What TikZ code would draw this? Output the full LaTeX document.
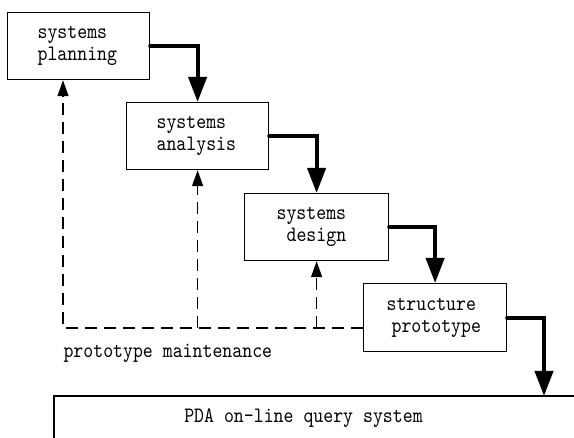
\documentclass[tikz,border=0pt]{standalone}
\usepackage{fontspec}
\usetikzlibrary{arrows.meta}
\newfontfamily\dfam{lmmono10-regular.otf}[FakeStretch=0.86]
\newcommand\dfont{\dfam\fontsize{22}{22}\selectfont}
\begin{document}
\begin{tikzpicture}[x=1pt,y=-1pt,
  font=\dfont,
  stagebox/.style={draw,line width=1.2pt,inner sep=0pt,align=left,anchor=north west,font=\dfont},
  flow/.style={line width=4pt,line cap=round,-{Triangle[width=18pt,length=25pt]}},
  maint/.style={line width=1.3pt,dash pattern=on 12pt off 7pt,-{Triangle[width=11pt,length=16pt]}}]
\useasboundingbox (0,0) rectangle (574,438);
\node[stagebox,minimum width=142pt,minimum height=67pt,text width=142pt] (p1) at (7,12)
  {\hspace*{30pt}systems\\\hspace*{30pt}planning};
\node[stagebox,minimum width=142pt,minimum height=67pt,text width=142pt] (p2) at (126,102)
  {\hspace*{30pt}systems\\\hspace*{30pt}analysis};
\node[stagebox,minimum width=144pt,minimum height=67pt,text width=144pt] (p3) at (244,193)
  {\hspace*{32pt}systems\\\hspace*{42pt}design};
\node[stagebox,minimum width=143pt,minimum height=68pt,text width=143pt] (p4) at (363,283)
  {\hspace*{23pt}structure\\\hspace*{28pt}prototype};
% bottom box (partially visible)
\coordinate (bl) at (54,440);
\coordinate (bt) at (54,396);
\coordinate (br) at (575,396);
\draw[line width=1.2pt] (bl) -- (bt) -- (br);
\node (pda) at (303.5,418) {PDA on-line query system};
\coordinate (q) at (544,396);
% flow arrows
\draw[flow] (p1.east) -| (p2.north);
\draw[flow] (p2.east) -| (p3.north);
\draw[flow] (p3.east) -| (p4.north);
\draw[flow] (p4.east) -| (q);
% maintenance feedback
\coordinate (c) at (63,328);
\draw[maint] (c -| p4.west) -- (c) -- (c |- p1.south);
\draw[maint] (p2.south |- c) -- (p2.south);
\draw[maint] (p3.south |- c) -- (p3.south);
\node[anchor=west] (lab) at (60,353) {prototype maintenance};
\end{tikzpicture}
\end{document}
